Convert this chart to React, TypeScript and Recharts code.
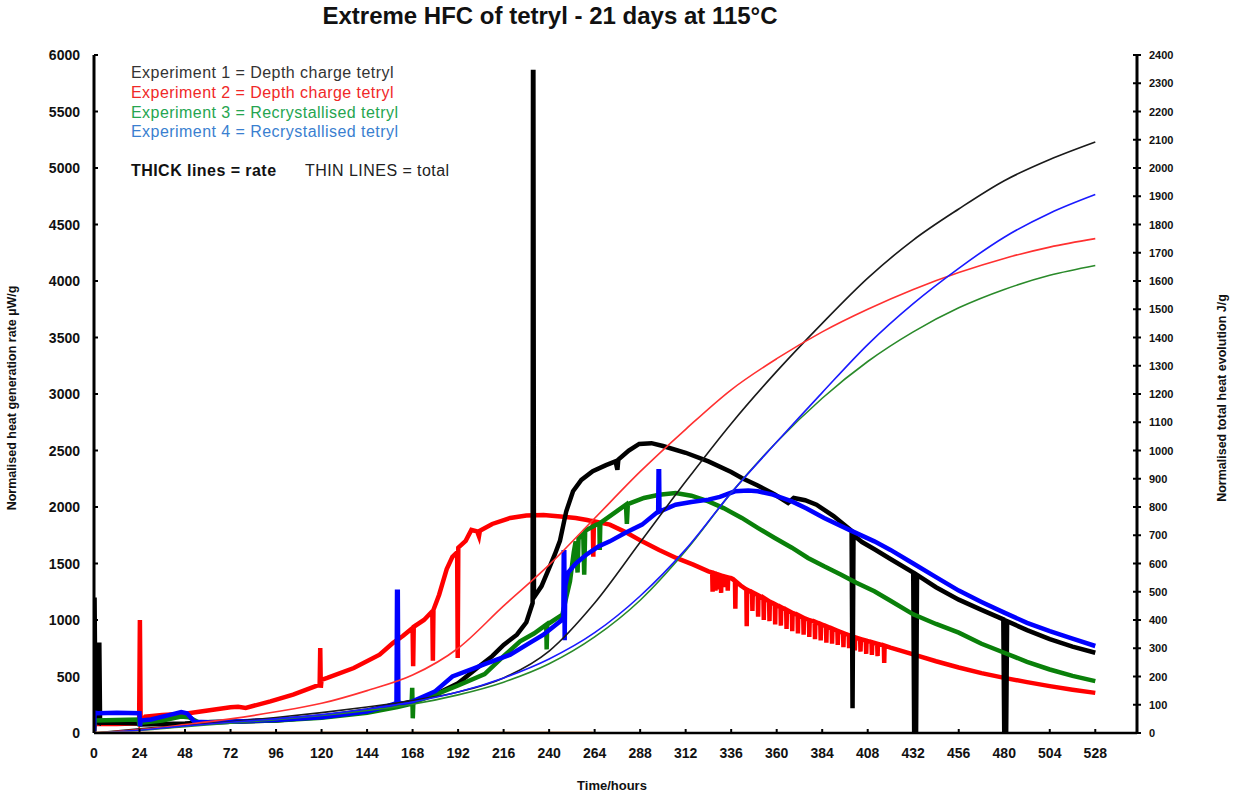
import React from 'react';
import { LineChart, Line, XAxis, YAxis } from 'recharts';

// ---------- Tick labels ----------
const xTicks = [0, 24, 48, 72, 96, 120, 144, 168, 192, 216, 240, 264, 288, 312, 336, 360, 384, 408, 432, 456, 480, 504, 528];
const rateTicks = [0, 500, 1000, 1500, 2000, 2500, 3000, 3500, 4000, 4500, 5000, 5500, 6000];
const totalTicks = [0, 100, 200, 300, 400, 500, 600, 700, 800, 900, 1000, 1100, 1200, 1300, 1400, 1500, 1600, 1700, 1800, 1900, 2000, 2100, 2200, 2300, 2400];

// ---------- THICK lines: rate (µW/g), [hours, value] ----------
const rateExp1: [number, number][] = [
  [0, 0], [0.3, 1200], [0.8, 100], [2.5, 90], [2.8, 800], [3.2, 90], [12, 90], [23.5, 85], [24.5, 75], [36, 80],
  [48, 85], [60, 95], [72, 100], [96, 110], [120, 145], [144, 200], [168, 280], [180, 340], [192, 440], [202, 575],
  [210, 680], [216, 780], [223, 870], [228, 980], [231.3, 1150], [231.5, 5850], [231.7, 5850], [232, 1200], [236, 1300],
  [240, 1460], [243, 1580], [245.7, 1700], [249, 1960], [252.6, 2140], [257, 2240], [263, 2316], [270, 2370], [275, 2404],
  [276, 2330], [276.5, 2420], [282, 2500], [287.5, 2558], [294, 2565], [300, 2540], [312, 2480], [324, 2404], [336, 2310],
  [341.6, 2257], [350, 2190], [359, 2110], [366, 2035], [369, 2080], [375, 2060], [381, 2020], [390, 1920], [399.5, 1790],
  [400, 220], [400.5, 1750], [405, 1690], [412, 1622], [420, 1540], [432, 1420], [432.5, 0], [433.5, 0], [434, 1400],
  [444, 1290], [456, 1180], [468, 1090], [479.5, 1006], [480, 0], [481, 0], [481.5, 990], [492, 910], [504, 830],
  [516, 765], [528, 710],
];

const rateExp2: [number, number][] = [
  [0, 0], [0.3, 80], [12, 80], [23.8, 85], [24.2, 1000], [24.6, 90], [27, 144], [36, 160], [48, 170], [60, 200],
  [72, 228], [76, 232], [80, 222], [93, 280], [105, 340], [119, 428], [119.3, 752], [119.6, 400], [120, 470], [123, 487],
  [137, 575], [150.6, 693], [157.6, 796], [163, 860], [168, 929], [168.3, 590], [168.6, 940], [174, 1000], [178.4, 1077],
  [178.7, 640], [179, 1090], [182, 1224], [186, 1450], [189, 1560], [191.5, 1600], [191.8, 664], [192.1, 1640], [196, 1700],
  [199, 1797], [202, 1785], [203, 1740], [203.5, 1790], [210, 1850], [219.5, 1903], [228, 1925], [237, 1930], [246, 1915],
  [254, 1903], [260, 1885], [263, 1873], [263.3, 1560], [263.6, 1873], [272, 1844], [280, 1780], [289, 1696], [298, 1620],
  [307, 1549], [316, 1490], [324, 1430],
  [326, 1420], [326.2, 1250], [326.4, 1418], [327.5, 1412], [327.7, 1260], [327.9, 1410], [329, 1403], [329.2, 1270],
  [329.4, 1401], [330.5, 1395], [330.7, 1240], [330.9, 1393], [332, 1388], [332.2, 1290], [332.4, 1386], [334, 1378],
  [334.2, 1260], [334.4, 1376], [336, 1370], [338, 1345], [338.2, 1100], [338.4, 1342], [341, 1305], [344, 1270],
  [344.2, 945], [344.4, 1268], [347, 1245], [347.2, 1080], [347.4, 1243], [350, 1220], [350.2, 1030], [350.4, 1218],
  [353, 1195], [353.2, 1000], [353.4, 1193], [356, 1165], [356.2, 990], [356.4, 1163], [359, 1140], [359.2, 960],
  [359.4, 1138], [362, 1115], [362.2, 950], [362.4, 1113], [365, 1090], [365.2, 920], [365.4, 1088], [368, 1065],
  [368.2, 900], [368.4, 1063], [371, 1045], [371.2, 880], [371.4, 1043], [374, 1020], [374.2, 870], [374.4, 1018],
  [377, 1000], [377.2, 850], [377.4, 998], [380, 985], [380.2, 830], [380.4, 983], [383, 965], [383.2, 820], [383.4, 963],
  [386, 945], [386.2, 800], [386.4, 943], [389, 925], [389.2, 790], [389.4, 923], [392, 905], [392.2, 780], [392.4, 903],
  [395, 885], [395.2, 760], [395.4, 883], [398, 865], [398.2, 750], [398.4, 863], [401, 848], [401.2, 730], [401.4, 846],
  [404, 832], [404.2, 720], [404.4, 830], [407, 818], [407.2, 700], [407.4, 816], [410, 805], [410.2, 690], [410.4, 803],
  [413, 790], [413.2, 680], [413.4, 788], [416.5, 775], [416.7, 620], [416.9, 773], [420, 755], [432, 695], [444, 635],
  [456, 580], [468, 530], [480, 488], [492, 450], [504, 415], [516, 383], [528, 355],
];

const rateExp3: [number, number][] = [
  [0, 0], [0.3, 110], [12, 115], [23.5, 120], [24, 60], [24.5, 90], [36, 110], [46, 145], [50, 140], [55, 95], [72, 100],
  [96, 110], [120, 135], [144, 180], [160, 230], [167.5, 260], [167.8, 400], [168.1, 130], [168.4, 270], [180, 340],
  [192, 420], [206, 522], [216, 680], [224.7, 811], [232, 880], [238.5, 959], [238.7, 740], [239, 960], [247, 1047],
  [249, 1200], [251, 1342], [253, 1600], [254, 1696], [255, 1420], [255.5, 1720], [258, 1760], [258.5, 1400], [259, 1790],
  [265, 1844], [266.5, 1850], [266.7, 1620], [267, 1860], [280.5, 2020], [281, 1850], [281.5, 2025], [290, 2080],
  [298, 2109], [306.7, 2124], [315, 2100], [324, 2050], [332, 1990], [341.6, 1903], [350, 1815], [359, 1726], [368, 1640],
  [376.5, 1549], [385, 1475], [394, 1401], [402, 1330], [411.5, 1254], [420, 1170], [432, 1050], [444, 965], [456, 888],
  [468, 790], [480, 710], [492, 630], [504, 562], [516, 505], [528, 459],
];

const rateExp4: [number, number][] = [
  [0, 0], [0.3, 180], [2, 175], [12, 180], [24, 175], [24.3, 60], [24.6, 110], [30, 120], [40, 160], [46, 185], [49, 175],
  [53, 100], [60, 95], [72, 100], [96, 115], [120, 140], [144, 190], [155, 240], [159.5, 265], [159.8, 1250], [160.2, 1250],
  [160.5, 270], [164, 255], [168, 280], [180, 370], [189, 500], [200, 570], [206, 610], [219.5, 693], [230, 800], [237, 870],
  [246, 990], [247.5, 1020], [247.7, 1600], [248, 1600], [248.2, 820], [248.5, 1300], [250, 1420], [254, 1500],
  [259.6, 1578], [266, 1650], [272, 1696], [280, 1770], [289, 1844], [297.5, 1960], [297.7, 2316], [298, 2316],
  [298.2, 1960], [306.7, 2020], [315, 2045], [324, 2065], [330, 2090], [338, 2139], [345, 2145], [350, 2139], [358, 2110],
  [368, 2050], [376, 1985], [385, 1903], [398, 1800], [411.5, 1696], [420, 1620], [432, 1500], [444, 1380], [456, 1260],
  [468, 1160], [480, 1065], [492, 975], [504, 902], [516, 835], [528, 770],
];

// ---------- THIN lines: total (J/g), [hours, value] ----------
const totalExp1: [number, number][] = [
  [0, 0], [24, 15], [48, 28], [72, 40], [96, 55], [120, 72], [144, 92], [168, 115], [192, 145], [216, 195], [240, 290],
  [264, 460], [288, 675], [312, 890], [336, 1095], [360, 1280], [384, 1450], [408, 1610], [432, 1745], [456, 1855],
  [480, 1955], [504, 2030], [528, 2092],
];
const totalExp2: [number, number][] = [
  [0, 0], [24, 12], [48, 30], [72, 50], [96, 75], [120, 105], [144, 150], [168, 205], [192, 300], [216, 450], [240, 595],
  [264, 760], [288, 925], [312, 1075], [336, 1215], [360, 1325], [384, 1420], [408, 1500], [432, 1570], [456, 1630],
  [480, 1680], [504, 1720], [528, 1750],
];
const totalExp3: [number, number][] = [
  [0, 0], [24, 9], [48, 22], [72, 35], [96, 47], [120, 62], [144, 80], [168, 102], [192, 135], [216, 180], [240, 245],
  [264, 340], [288, 470], [312, 645], [336, 850], [360, 1030], [384, 1185], [408, 1315], [432, 1420], [456, 1505],
  [480, 1570], [504, 1620], [528, 1655],
];
const totalExp4: [number, number][] = [
  [0, 0], [24, 10], [48, 25], [72, 38], [96, 50], [120, 65], [144, 85], [168, 110], [192, 145], [216, 195], [240, 262],
  [264, 355], [288, 485], [312, 650], [336, 850], [360, 1030], [384, 1205], [408, 1375], [432, 1520], [456, 1645],
  [480, 1755], [504, 1840], [528, 1906],
];

const baseline: [number, number][] = [[0, 0], [263, 0]];

const toRows = (arr: [number, number][]) => arr.map(([t, v]) => ({ t, v }));

const FONT = '"Liberation Sans", Arial, sans-serif';

const LeftTick = (props: any) => {
  const { x, y, payload } = props;
  return (
    <g>
      <line x1={x} x2={x + 4} y1={y} y2={y} stroke="#000" strokeWidth={2} />
      <text x={x - 14} y={y} textAnchor="end" dominantBaseline="central" fontFamily={FONT} fontWeight="bold" fontSize={14} fill="#111">
        {payload.value}
      </text>
    </g>
  );
};

const RightTick = (props: any) => {
  const { x, y, payload } = props;
  return (
    <g>
      <line x1={x - 4} x2={x + 4} y1={y} y2={y} stroke="#000" strokeWidth={2} />
      <text x={x + 12} y={y} textAnchor="start" dominantBaseline="central" fontFamily={FONT} fontWeight="bold" fontSize={11} fill="#111">
        {payload.value}
      </text>
    </g>
  );
};

const BottomTick = (props: any) => {
  const { x, y, payload } = props;
  return (
    <g>
      <line x1={x} x2={x} y1={y} y2={y - 4} stroke="#000" strokeWidth={2} />
      <text x={x} y={y + 20} textAnchor="middle" dominantBaseline="central" fontFamily={FONT} fontWeight="bold" fontSize={14} fill="#111">
        {payload.value}
      </text>
    </g>
  );
};

const legendLines = [
  { text: 'Experiment 1 = Depth charge tetryl', color: '#333333', y: 74 },
  { text: 'Experiment 2 = Depth charge tetryl', color: '#f02828', y: 94 },
  { text: 'Experiment 3 = Recrystallised tetryl', color: '#25a550', y: 114 },
  { text: 'Experiment 4 = Recrystallised tetryl', color: '#3a7fd0', y: 133 },
];

export default function App() {
  const thick = 4.5;
  const thin = 1.6;
  return (
    <div style={{ position: 'relative', width: 1236, height: 794, background: '#fff', fontFamily: FONT }}>
      <style>{'body{margin:0;background:#fff}'}</style>
      <LineChart width={1236} height={794} margin={{ top: 55, right: 0, bottom: 0, left: 0 }}>
        <XAxis
          type="number"
          dataKey="t"
          domain={[0, 550]}
          ticks={xTicks}
          allowDataOverflow
          height={61}
          tickSize={0}
          tickMargin={0}
          tickLine={false}
          axisLine={{ stroke: '#000', strokeWidth: 2.5 }}
          tick={<BottomTick />}
          interval={0}
        />
        <YAxis
          yAxisId="rate"
          orientation="left"
          domain={[0, 6000]}
          ticks={rateTicks}
          allowDataOverflow
          width={94}
          tickSize={0}
          tickMargin={0}
          tickLine={false}
          axisLine={{ stroke: '#000', strokeWidth: 3 }}
          tick={<LeftTick />}
          interval={0}
        />
        <YAxis
          yAxisId="total"
          orientation="right"
          domain={[0, 2400]}
          ticks={totalTicks}
          allowDataOverflow
          width={99}
          tickSize={0}
          tickMargin={0}
          tickLine={false}
          axisLine={{ stroke: '#000', strokeWidth: 3 }}
          tick={<RightTick />}
          interval={0}
        />
        <Line yAxisId="rate" data={toRows(rateExp2)} dataKey="v" type="linear" stroke="#ff0000" strokeWidth={thick} dot={false} activeDot={false} isAnimationActive={false} />
        <Line yAxisId="rate" data={toRows(rateExp1)} dataKey="v" type="linear" stroke="#000000" strokeWidth={thick} dot={false} activeDot={false} isAnimationActive={false} />
        <Line yAxisId="rate" data={toRows(rateExp3)} dataKey="v" type="linear" stroke="#0a800a" strokeWidth={thick} dot={false} activeDot={false} isAnimationActive={false} />
        <Line yAxisId="rate" data={toRows(rateExp4)} dataKey="v" type="linear" stroke="#0000ff" strokeWidth={thick} dot={false} activeDot={false} isAnimationActive={false} />
        <Line yAxisId="total" data={toRows(totalExp1)} dataKey="v" type="monotone" stroke="#1a1a1a" strokeWidth={thin} dot={false} activeDot={false} isAnimationActive={false} />
        <Line yAxisId="total" data={toRows(totalExp2)} dataKey="v" type="monotone" stroke="#ff3030" strokeWidth={thin} dot={false} activeDot={false} isAnimationActive={false} />
        <Line yAxisId="total" data={toRows(totalExp3)} dataKey="v" type="monotone" stroke="#2a8a2a" strokeWidth={thin} dot={false} activeDot={false} isAnimationActive={false} />
        <Line yAxisId="total" data={toRows(totalExp4)} dataKey="v" type="monotone" stroke="#1a1aff" strokeWidth={thin} dot={false} activeDot={false} isAnimationActive={false} />
        <Line yAxisId="rate" data={toRows(baseline)} dataKey="v" type="linear" stroke="#eda468" strokeWidth={3} dot={false} activeDot={false} isAnimationActive={false} />
      </LineChart>

      <div style={{ position: 'absolute', left: 0, width: 1100, top: 2, textAlign: 'center', fontSize: 24, fontWeight: 'bold', color: '#111' }}>
        Extreme HFC of tetryl - 21 days at 115°C
      </div>

      {legendLines.map((l) => (
        <div key={l.text} style={{ position: 'absolute', left: 131, top: l.y - 10, fontSize: 16, letterSpacing: 0.45, color: l.color, whiteSpace: 'nowrap' }}>
          {l.text}
        </div>
      ))}
      <div style={{ position: 'absolute', left: 131, top: 162, fontSize: 16, letterSpacing: 0.45, color: '#111', whiteSpace: 'nowrap' }}>
        <span style={{ fontWeight: 'bold' }}>THICK lines = rate</span>
      </div>
      <div style={{ position: 'absolute', left: 305, top: 162, fontSize: 16, letterSpacing: 0.45, color: '#222', whiteSpace: 'nowrap' }}>
        THIN LINES = total
      </div>

      <div style={{ position: 'absolute', left: 12, top: 398, width: 0, height: 0 }}>
        <div style={{ position: 'absolute', transform: 'translate(-50%, -50%) rotate(-90deg)', whiteSpace: 'nowrap', fontSize: 12.5, fontWeight: 'bold', color: '#111' }}>
          Normalised heat generation rate µW/g
        </div>
      </div>
      <div style={{ position: 'absolute', left: 1222, top: 398, width: 0, height: 0 }}>
        <div style={{ position: 'absolute', transform: 'translate(-50%, -50%) rotate(-90deg)', whiteSpace: 'nowrap', fontSize: 12.5, fontWeight: 'bold', color: '#111' }}>
          Normalised total heat evolution J/g
        </div>
      </div>
      <div style={{ position: 'absolute', left: 0, width: 1224, top: 778, textAlign: 'center', fontSize: 13, fontWeight: 'bold', color: '#111' }}>
        Time/hours
      </div>
    </div>
  );
}
